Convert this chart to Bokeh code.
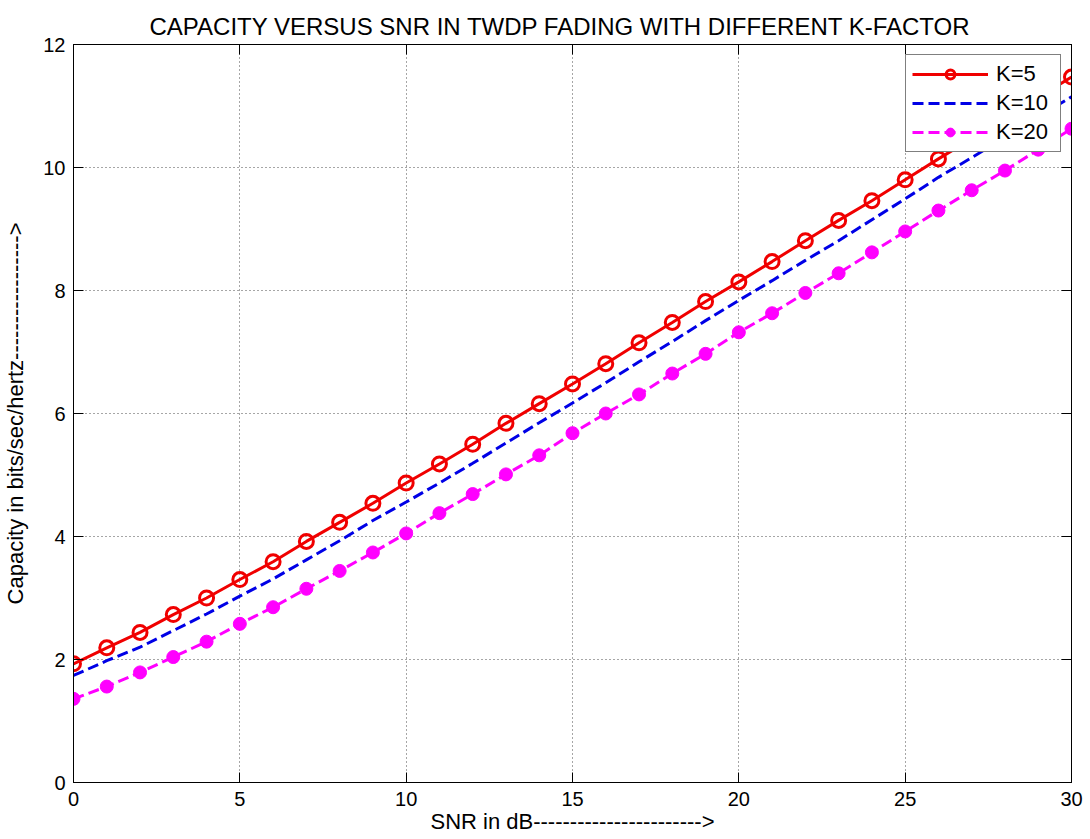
from bokeh.plotting import figure
from bokeh.models import (Range1d, FixedTicker, LinearAxis, Legend, LegendItem,
                          CustomJSTickFormatter)
from bokeh.embed import file_html
from bokeh.resources import INLINE

snr_db = list(range(0, 31))
cap_k5 = [1.93, 2.19, 2.44, 2.73, 3.00, 3.30, 3.59, 3.92, 4.23, 4.54,
          4.87, 5.18, 5.50, 5.84, 6.16, 6.48, 6.81, 7.15, 7.48, 7.82,
          8.14, 8.47, 8.81, 9.14, 9.46, 9.80, 10.14, 10.47, 10.80, 11.14, 11.47]
cap_k10 = [1.74, 1.98, 2.20, 2.47, 2.74, 3.03, 3.31, 3.62, 3.93, 4.26,
           4.56, 4.87, 5.19, 5.52, 5.85, 6.17, 6.50, 6.84, 7.17, 7.51,
           7.84, 8.16, 8.49, 8.81, 9.15, 9.49, 9.84, 10.16, 10.49, 10.82, 11.15]
cap_k20 = [1.36, 1.56, 1.79, 2.04, 2.29, 2.58, 2.85, 3.15, 3.44, 3.74,
           4.05, 4.38, 4.69, 5.01, 5.32, 5.68, 6.00, 6.31, 6.65, 6.97,
           7.32, 7.63, 7.96, 8.28, 8.62, 8.96, 9.30, 9.63, 9.95, 10.29, 10.63]
series_labels = ["K=5", "K=10", "K=20"]
x_ticks = [0, 5, 10, 15, 20, 25, 30]
y_ticks = [0, 2, 4, 6, 8, 10, 12]

FONT = "Liberation Sans"
FS = "20px"
LFS = "22px"

p = figure(width=1088, height=839, output_backend="svg", toolbar_location=None,
           x_range=Range1d(0, 30), y_range=Range1d(0, 12),
           min_border_left=72, min_border_top=44, min_border_right=17,
           min_border_bottom=57,
           title="CAPACITY VERSUS SNR IN TWDP FADING WITH DIFFERENT K-FACTOR")
p.title.align = "left"
p.title.offset = 76
p.title.vertical_align = "top"
p.title.text_font = FONT
p.title.text_font_size = "24px"
p.title.text_font_style = "normal"
p.title.text_color = "black"
p.title.text_line_height = 1.0
p.title.standoff = 6

p.outline_line_color = "black"
p.outline_line_width = 1
p.background_fill_color = "white"
p.border_fill_color = "white"

p.xaxis.ticker = FixedTicker(ticks=x_ticks)
p.yaxis.ticker = FixedTicker(ticks=y_ticks)
p.xaxis.axis_label = "SNR in dB----------------------->"
p.yaxis.axis_label = "Capacity in bits/sec/hertz----------------->"
for ax in (p.xaxis[0], p.yaxis[0]):
    ax.axis_label_text_font = FONT
    ax.axis_label_text_font_size = LFS
    ax.axis_label_text_font_style = "normal"
    ax.axis_label_text_color = "black"
    ax.major_label_text_font = FONT
    ax.major_label_text_font_size = FS
    ax.major_label_text_color = "black"
    ax.major_tick_in = 10
    ax.major_tick_out = 0
    ax.minor_tick_line_color = None
    ax.axis_line_color = "black"
    ax.major_tick_line_color = "black"
p.xaxis.major_label_standoff = 9
p.xaxis.axis_label_standoff = 0
p.yaxis.major_label_standoff = 8
p.yaxis.axis_label_standoff = 12

blank = CustomJSTickFormatter(code="return ''")
for side, tk in (("right", y_ticks), ("above", x_ticks)):
    ax = LinearAxis(ticker=FixedTicker(ticks=tk), formatter=blank)
    ax.major_label_standoff = 0
    ax.major_tick_in = 10
    ax.major_tick_out = 0
    ax.minor_tick_line_color = None
    ax.axis_line_color = "black"
    ax.major_tick_line_color = "black"
    p.add_layout(ax, side)

p.xgrid.ticker = FixedTicker(ticks=x_ticks)
p.ygrid.ticker = FixedTicker(ticks=y_ticks)
p.grid.grid_line_color = "black"
p.grid.grid_line_alpha = 0.7
p.grid.grid_line_dash = "1 3"
p.grid.grid_line_width = 1

RED = "#f00000"
BLUE = "#0000e6"
MAG = "#ff00ff"

l1 = p.line(snr_db, cap_k5, line_color=RED, line_width=3)
m1 = p.scatter(snr_db, cap_k5, marker="circle", size=14, fill_color=None,
               line_color=RED, line_width=3)
l2 = p.line(snr_db, cap_k10, line_color=BLUE, line_width=3, line_dash="11 5")
l3 = p.line(snr_db, cap_k20, line_color=MAG, line_width=3, line_dash="11 5")
m3 = p.scatter(snr_db, cap_k20, marker="circle", size=13, fill_color=MAG,
               line_color=MAG, line_width=1)

legend = Legend(items=[
    LegendItem(label=series_labels[0], renderers=[l1, m1]),
    LegendItem(label=series_labels[1], renderers=[l2]),
    LegendItem(label=series_labels[2], renderers=[l3, m3]),
], location="top_right")
legend.margin = 10
legend.padding = 6
legend.spacing = 3
legend.glyph_width = 76
legend.glyph_height = 22
legend.label_height = 22
legend.label_width = 58
legend.label_standoff = 8
legend.label_text_font = FONT
legend.label_text_font_size = LFS
legend.label_text_color = "black"
legend.border_line_color = "black"
legend.border_line_width = 1
legend.background_fill_color = "white"
legend.background_fill_alpha = 1
p.add_layout(legend, "center")

open("out.html", "w").write(file_html(p, INLINE))
